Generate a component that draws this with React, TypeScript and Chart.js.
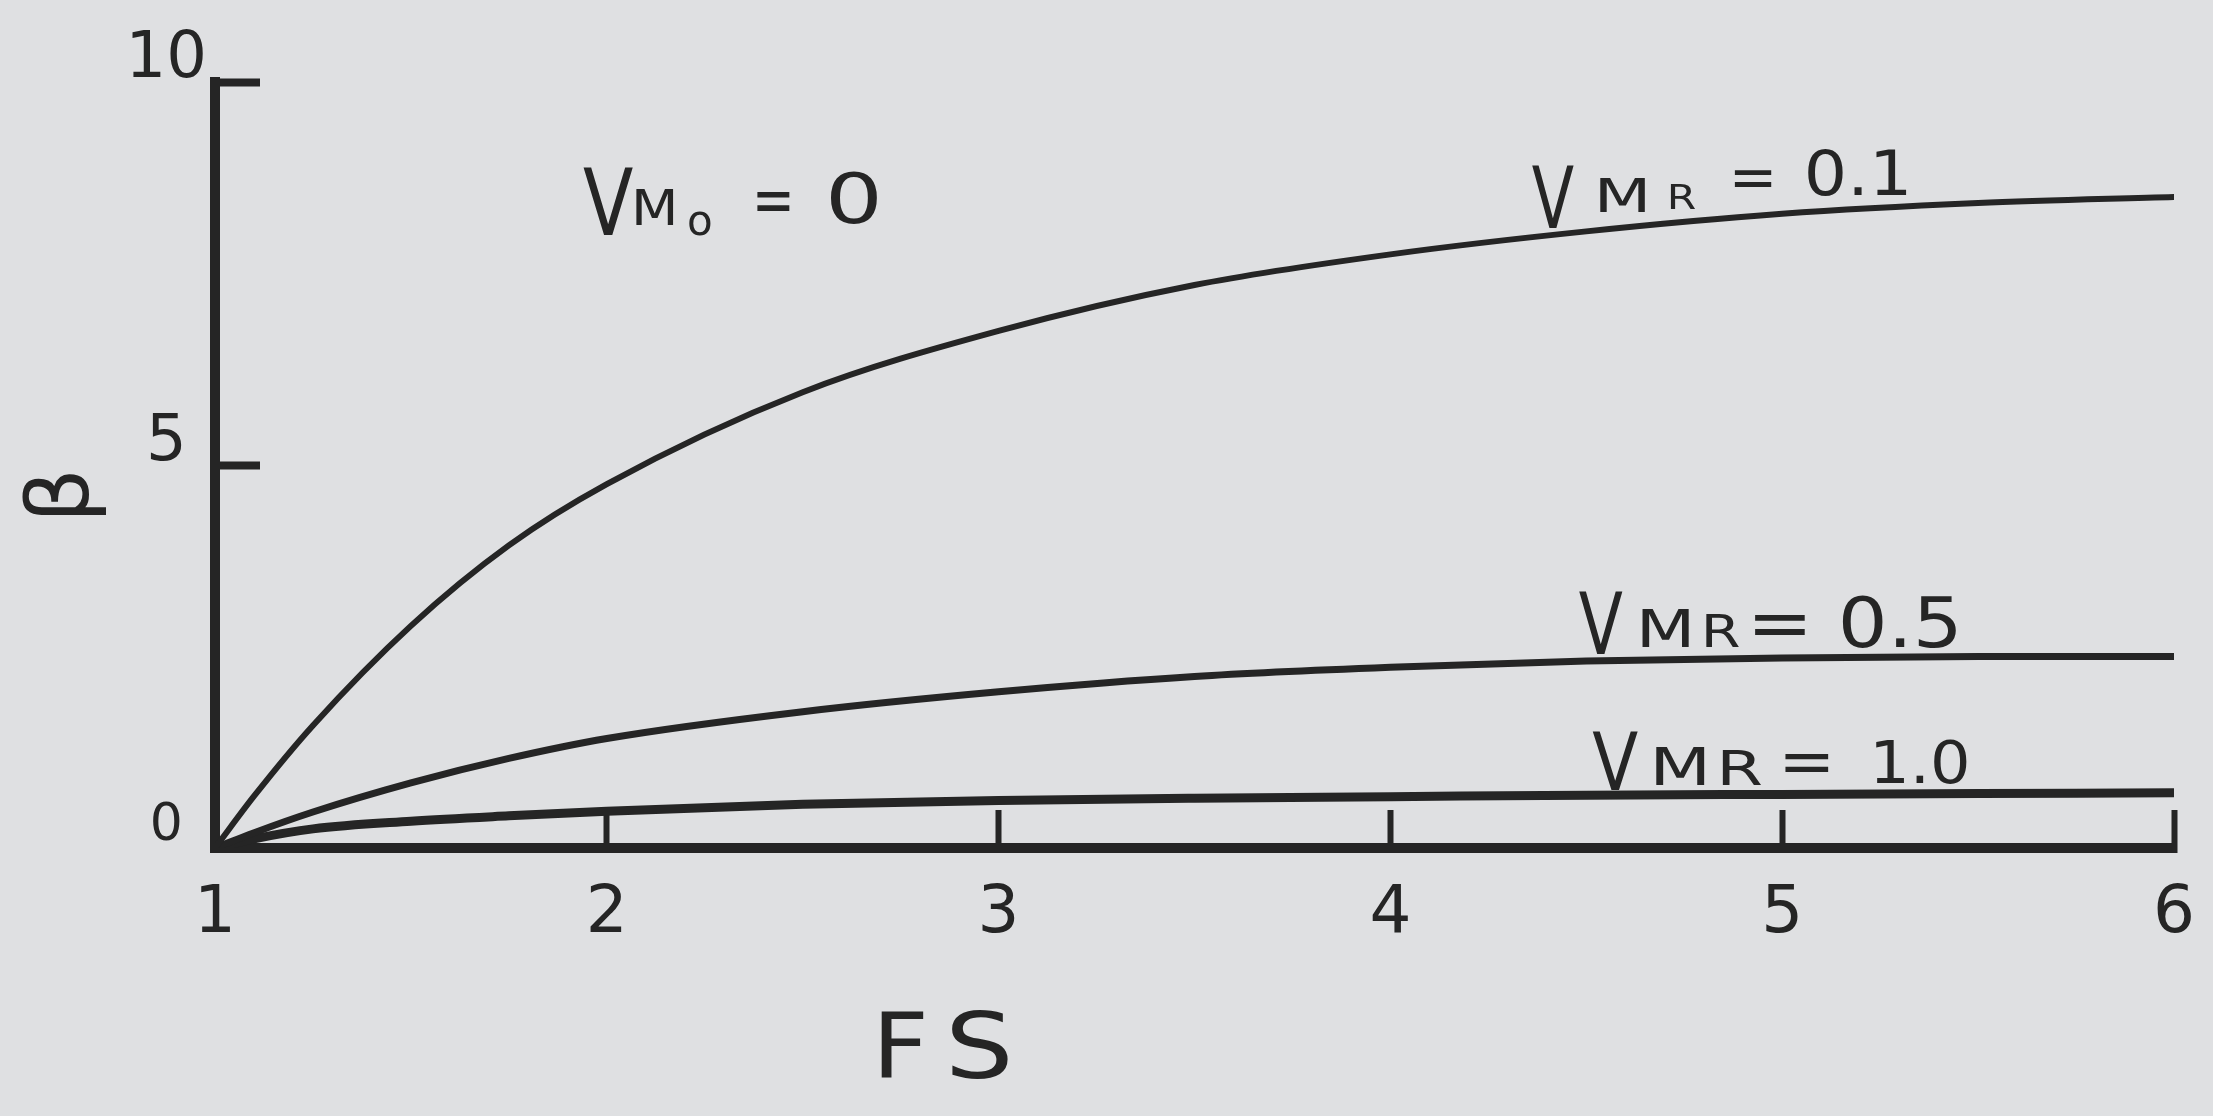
import React, { useEffect, useRef } from 'react';
import { Chart, registerables } from 'chart.js';

Chart.register(...registerables);

// Factor of safety on the x axis, β on the y axis.
const fsValues = [1, 1.1, 1.25, 1.5, 1.75, 2, 2.5, 3, 3.5, 4, 4.5, 5, 5.5, 6];
const betaVmr01 = [0, 0.68, 1.6, 2.9, 3.95, 4.75, 5.95, 6.75, 7.35, 7.75, 8.05, 8.28, 8.42, 8.5];
const betaVmr05 = [0, 0.2, 0.47, 0.85, 1.17, 1.43, 1.78, 2.04, 2.24, 2.36, 2.44, 2.48, 2.5, 2.5];
const betaVmr10 = [0, 0.12, 0.25, 0.35, 0.42, 0.48, 0.57, 0.62, 0.65, 0.67, 0.69, 0.7, 0.71, 0.72];

const xTickValues = [1, 2, 3, 4, 5, 6];
const yTickValues = [0, 5, 10];

const xTitle = ['F', 'S'];
const yTitle = 'β';

const INK = '#252525';
const FONT = '"DejaVu Sans", sans-serif';

type Part = { text: string; dx: number; dy: number; size: number; sx?: number };
type CurveLabel = { fs: number; beta: number; parts: Part[] };

// Hand-lettered annotations; anchor = left edge / baseline of the "V", in data units.
const curveLabels: CurveLabel[] = [
  {
    fs: 1.939, beta: 8.0,
    parts: [
      { text: 'V', dx: 0, dy: 0, size: 92, sx: 0.8 },
      { text: 'M', dx: 48, dy: -10, size: 50, sx: 1.1 },
      { text: 'o', dx: 104, dy: 0, size: 42 },
      { text: '=', dx: 169, dy: -12, size: 68, sx: 0.75 },
      { text: '0', dx: 242, dy: -12, size: 70, sx: 1.3 },
    ],
  },
  {
    fs: 4.361, beta: 8.1,
    parts: [
      { text: 'V', dx: 0, dy: 0, size: 86, sx: 0.72 },
      { text: 'M', dx: 62, dy: -16, size: 46, sx: 1.45 },
      { text: 'R', dx: 135, dy: -19, size: 34, sx: 1.25 },
      { text: '=', dx: 197, dy: -31, size: 58 },
      { text: '0.1', dx: 272, dy: -33, size: 62, sx: 1.1 },
    ],
  },
  {
    fs: 4.481, beta: 2.53,
    parts: [
      { text: 'V', dx: 0, dy: 0, size: 86, sx: 0.75 },
      { text: 'M', dx: 57, dy: -7, size: 52, sx: 1.33 },
      { text: 'R', dx: 122, dy: -7, size: 44, sx: 1.3 },
      { text: '=', dx: 168, dy: -7, size: 72, sx: 1.1 },
      { text: '0.5', dx: 259, dy: -7, size: 70, sx: 1.12 },
    ],
  },
  {
    fs: 4.515, beta: 0.757,
    parts: [
      { text: 'V', dx: 0, dy: 0, size: 80, sx: 0.84 },
      { text: 'M', dx: 57, dy: -5, size: 52, sx: 1.38 },
      { text: 'R', dx: 124, dy: -5, size: 48, sx: 1.4 },
      { text: '=', dx: 186, dy: -7, size: 62, sx: 1.1 },
      { text: '1.0', dx: 277, dy: -7, size: 58, sx: 1.1 },
    ],
  },
];

const toPoints = (ys: number[]) => fsValues.map((x, i) => ({ x, y: ys[i] }));

function drawPart(ctx: CanvasRenderingContext2D, p: Part, x: number, y: number) {
  ctx.save();
  ctx.font = `${p.size}px ${FONT}`;
  ctx.translate(x, y);
  ctx.scale(p.sx ?? 1, 1);
  ctx.fillText(p.text, 0, 0);
  ctx.restore();
}

const annotationPlugin = {
  id: 'handLabels',
  afterDatasetsDraw(chart: any) {
    const { ctx, chartArea, scales } = chart;
    const xs = scales.x;
    const ys = scales.y;
    ctx.save();
    ctx.fillStyle = INK;
    ctx.textAlign = 'left';
    ctx.textBaseline = 'alphabetic';
    for (const lab of curveLabels) {
      const x0 = xs.getPixelForValue(lab.fs);
      const y0 = ys.getPixelForValue(lab.beta);
      for (const p of lab.parts) drawPart(ctx, p, x0 + p.dx, y0 + p.dy);
    }
    // x axis title "FS"
    const tx = xs.getPixelForValue(2.677);
    const ty = chartArea.bottom + 230;
    drawPart(ctx, { text: xTitle[0], dx: 0, dy: 0, size: 90, sx: 1.1 }, tx, ty);
    drawPart(ctx, { text: xTitle[1], dx: 0, dy: 0, size: 90, sx: 1.2 }, tx + 73, ty);
    // y axis title, rotated
    ctx.textAlign = 'center';
    ctx.textBaseline = 'middle';
    ctx.translate(chartArea.left - 149, ys.getPixelForValue(4.6));
    ctx.rotate(-Math.PI / 2);
    ctx.font = `86px ${FONT}`;
    ctx.fillText(yTitle, 0, 0);
    ctx.restore();
  },
};

export default function App() {
  const canvasRef = useRef<HTMLCanvasElement | null>(null);

  useEffect(() => {
    const canvas = canvasRef.current;
    if (!canvas) return;
    const lineStyle = {
      borderColor: INK,
      pointRadius: 0,
      fill: false,
      cubicInterpolationMode: 'monotone' as const,
      borderCapStyle: 'round' as const,
    };
    const chart = new Chart(canvas, {
      type: 'line',
      data: {
        datasets: [
          { label: 'VMR = 0.1', data: toPoints(betaVmr01), borderWidth: 6, ...lineStyle },
          { label: 'VMR = 0.5', data: toPoints(betaVmr05), borderWidth: 7, ...lineStyle },
          { label: 'VMR = 1.0', data: toPoints(betaVmr10), borderWidth: 9, ...lineStyle },
        ],
      },
      options: {
        responsive: false,
        maintainAspectRatio: false,
        devicePixelRatio: 1,
        animation: false,
        events: [],
        layout: { padding: { left: 0, right: 39, top: 82, bottom: 0 } },
        plugins: {
          legend: { display: false },
          tooltip: { enabled: false },
          title: { display: false },
        },
        scales: {
          x: {
            type: 'linear',
            min: 1,
            max: 6,
            afterBuildTicks: (s: any) => {
              s.ticks = xTickValues.map((v) => ({ value: v }));
            },
            afterFit: (s: any) => {
              s.height = 268;
              s.paddingLeft = 0;
              s.paddingRight = 0;
            },
            grid: {
              display: true,
              drawOnChartArea: false,
              drawTicks: true,
              tickLength: -38,
              tickWidth: 6,
              tickColor: INK,
            },
            border: { display: true, width: 10, color: INK },
            ticks: {
              padding: 65,
              color: INK,
              font: { family: FONT, size: 66 },
              maxRotation: 0,
              autoSkip: false,
            },
          },
          y: {
            type: 'linear',
            min: 0,
            max: 10,
            afterBuildTicks: (s: any) => {
              s.ticks = yTickValues.map((v) => ({ value: v }));
            },
            afterFit: (s: any) => {
              s.width = 215;
              s.paddingTop = 0;
              s.paddingBottom = 0;
            },
            grid: {
              display: true,
              drawOnChartArea: false,
              drawTicks: true,
              tickLength: -45,
              tickWidth: 8,
              tickColor: INK,
            },
            border: { display: true, width: 10, color: INK },
            ticks: {
              padding: 53,
              crossAlign: 'center',
              labelOffset: -22,
              color: INK,
              font: (c: any) => ({ family: FONT, size: c.tick && c.tick.value === 0 ? 52 : 64 }),
              autoSkip: false,
            },
          },
        },
      },
      plugins: [annotationPlugin],
    });
    return () => chart.destroy();
  }, []);

  return (
    <div
      style={{
        position: 'fixed',
        left: 0,
        top: 0,
        width: 2213,
        height: 1116,
        background: '#dfe0e2',
        overflow: 'hidden',
      }}
    >
      <canvas ref={canvasRef} width={2213} height={1116} style={{ display: 'block' }} />
    </div>
  );
}
